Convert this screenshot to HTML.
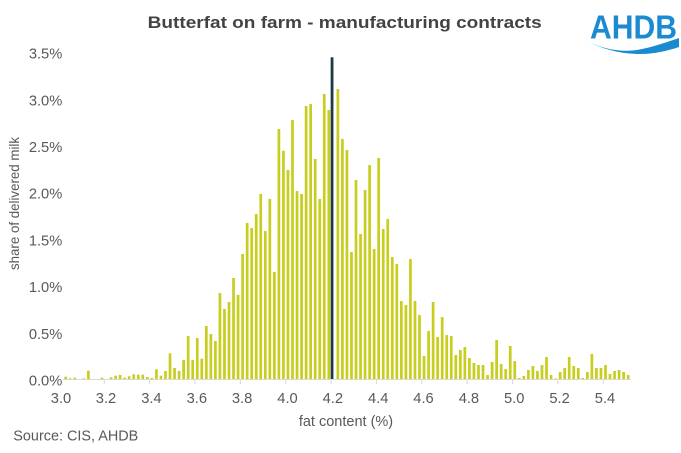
<!DOCTYPE html>
<html><head><meta charset="utf-8"><style>
html,body{margin:0;padding:0;background:#fff;}
svg{display:block;}
text{font-family:"Liberation Sans",Arial,sans-serif;}
</style></head><body>
<svg width="681" height="453" viewBox="0 0 681 453" xmlns="http://www.w3.org/2000/svg">
<rect width="681" height="453" fill="#fff"/>
<text x="147.7" y="28" font-size="17" font-weight="bold" fill="#434343" textLength="394" lengthAdjust="spacingAndGlyphs">Butterfat on farm - manufacturing contracts</text>
<text x="590" y="38.5" font-size="33" font-weight="bold" fill="#1a8bd0" textLength="87" lengthAdjust="spacingAndGlyphs">AHDB</text>
<path d="M589,42 C606,50 624,53 642,49 C656,46 667,42 679,38 L679,47 C667,51 654,54 640,54 C620,54 603,49 589,42 Z" fill="#1a8bd0"/>
<g fill="#595959" font-size="14.7" text-anchor="end">
<text x="62.3" y="385.5">0.0%</text>
<text x="62.3" y="338.8">0.5%</text>
<text x="62.3" y="292.1">1.0%</text>
<text x="62.3" y="245.4">1.5%</text>
<text x="62.3" y="198.7">2.0%</text>
<text x="62.3" y="152">2.5%</text>
<text x="62.3" y="105.3">3.0%</text>
<text x="62.3" y="58.6">3.5%</text>
</g>
<text transform="translate(19,203.5) rotate(-90)" text-anchor="middle" font-size="14" fill="#595959" textLength="133" lengthAdjust="spacingAndGlyphs">share of delivered milk</text>
<g fill="#c8ce1e">
<rect x="64.36" y="376.7" width="2.7" height="2.8"/>
<rect x="68.89" y="378.3" width="2.7" height="1.2"/>
<rect x="73.43" y="377.7" width="2.7" height="1.8"/>
<rect x="82.50" y="378.3" width="2.7" height="1.2"/>
<rect x="87.04" y="370.7" width="2.7" height="8.8"/>
<rect x="100.64" y="377.7" width="2.7" height="1.8"/>
<rect x="109.72" y="377.3" width="2.7" height="2.2"/>
<rect x="114.25" y="375.7" width="2.7" height="3.8"/>
<rect x="118.79" y="375" width="2.7" height="4.5"/>
<rect x="123.32" y="377.7" width="2.7" height="1.8"/>
<rect x="127.86" y="376.3" width="2.7" height="3.2"/>
<rect x="132.40" y="374.3" width="2.7" height="5.2"/>
<rect x="136.93" y="374.7" width="2.7" height="4.8"/>
<rect x="141.47" y="374.7" width="2.7" height="4.8"/>
<rect x="146.00" y="377" width="2.7" height="2.5"/>
<rect x="150.54" y="378" width="2.7" height="1.5"/>
<rect x="155.08" y="369.3" width="2.7" height="10.2"/>
<rect x="159.61" y="375.7" width="2.7" height="3.8"/>
<rect x="164.15" y="371" width="2.7" height="8.5"/>
<rect x="168.68" y="353.3" width="2.7" height="26.2"/>
<rect x="173.22" y="368" width="2.7" height="11.5"/>
<rect x="177.76" y="371" width="2.7" height="8.5"/>
<rect x="182.29" y="360" width="2.7" height="19.5"/>
<rect x="186.83" y="336" width="2.7" height="43.5"/>
<rect x="191.36" y="360" width="2.7" height="19.5"/>
<rect x="195.90" y="338" width="2.7" height="41.5"/>
<rect x="200.44" y="358.7" width="2.7" height="20.8"/>
<rect x="204.97" y="326" width="2.7" height="53.5"/>
<rect x="209.51" y="334" width="2.7" height="45.5"/>
<rect x="214.04" y="341" width="2.7" height="38.5"/>
<rect x="218.58" y="293" width="2.7" height="86.5"/>
<rect x="223.12" y="309" width="2.7" height="70.5"/>
<rect x="227.65" y="302" width="2.7" height="77.5"/>
<rect x="232.19" y="278" width="2.7" height="101.5"/>
<rect x="236.72" y="295" width="2.7" height="84.5"/>
<rect x="241.26" y="254" width="2.7" height="125.5"/>
<rect x="245.80" y="223" width="2.7" height="156.5"/>
<rect x="250.33" y="228" width="2.7" height="151.5"/>
<rect x="254.87" y="214" width="2.7" height="165.5"/>
<rect x="259.40" y="194" width="2.7" height="185.5"/>
<rect x="263.94" y="231" width="2.7" height="148.5"/>
<rect x="268.48" y="199" width="2.7" height="180.5"/>
<rect x="273.01" y="272" width="2.7" height="107.5"/>
<rect x="277.55" y="129" width="2.7" height="250.5"/>
<rect x="282.08" y="150.7" width="2.7" height="228.8"/>
<rect x="286.62" y="170" width="2.7" height="209.5"/>
<rect x="291.16" y="120" width="2.7" height="259.5"/>
<rect x="295.69" y="191" width="2.7" height="188.5"/>
<rect x="300.23" y="194" width="2.7" height="185.5"/>
<rect x="304.76" y="106" width="2.7" height="273.5"/>
<rect x="309.30" y="104" width="2.7" height="275.5"/>
<rect x="313.84" y="159" width="2.7" height="220.5"/>
<rect x="318.37" y="199" width="2.7" height="180.5"/>
<rect x="322.91" y="94" width="2.7" height="285.5"/>
<rect x="327.44" y="110" width="2.7" height="269.5"/>
<rect x="336.52" y="89" width="2.7" height="290.5"/>
<rect x="341.05" y="139" width="2.7" height="240.5"/>
<rect x="345.59" y="150" width="2.7" height="229.5"/>
<rect x="350.12" y="252" width="2.7" height="127.5"/>
<rect x="354.66" y="180" width="2.7" height="199.5"/>
<rect x="359.20" y="234" width="2.7" height="145.5"/>
<rect x="363.73" y="190" width="2.7" height="189.5"/>
<rect x="368.27" y="165" width="2.7" height="214.5"/>
<rect x="372.80" y="249" width="2.7" height="130.5"/>
<rect x="377.34" y="158" width="2.7" height="221.5"/>
<rect x="381.88" y="229" width="2.7" height="150.5"/>
<rect x="386.41" y="219" width="2.7" height="160.5"/>
<rect x="390.95" y="257" width="2.7" height="122.5"/>
<rect x="395.48" y="264" width="2.7" height="115.5"/>
<rect x="400.02" y="301" width="2.7" height="78.5"/>
<rect x="404.56" y="305" width="2.7" height="74.5"/>
<rect x="409.09" y="259" width="2.7" height="120.5"/>
<rect x="413.63" y="301" width="2.7" height="78.5"/>
<rect x="418.16" y="315" width="2.7" height="64.5"/>
<rect x="422.70" y="356" width="2.7" height="23.5"/>
<rect x="427.24" y="331" width="2.7" height="48.5"/>
<rect x="431.77" y="302" width="2.7" height="77.5"/>
<rect x="436.31" y="337" width="2.7" height="42.5"/>
<rect x="440.84" y="317" width="2.7" height="62.5"/>
<rect x="445.38" y="335" width="2.7" height="44.5"/>
<rect x="449.92" y="336" width="2.7" height="43.5"/>
<rect x="454.45" y="355" width="2.7" height="24.5"/>
<rect x="458.99" y="350" width="2.7" height="29.5"/>
<rect x="463.52" y="347" width="2.7" height="32.5"/>
<rect x="468.06" y="358" width="2.7" height="21.5"/>
<rect x="472.60" y="363" width="2.7" height="16.5"/>
<rect x="477.13" y="365" width="2.7" height="14.5"/>
<rect x="481.67" y="365" width="2.7" height="14.5"/>
<rect x="486.20" y="375" width="2.7" height="4.5"/>
<rect x="490.74" y="362" width="2.7" height="17.5"/>
<rect x="495.28" y="340" width="2.7" height="39.5"/>
<rect x="499.81" y="364" width="2.7" height="15.5"/>
<rect x="504.35" y="369" width="2.7" height="10.5"/>
<rect x="508.88" y="346" width="2.7" height="33.5"/>
<rect x="513.42" y="361" width="2.7" height="18.5"/>
<rect x="517.96" y="378" width="2.7" height="1.5"/>
<rect x="522.49" y="376" width="2.7" height="3.5"/>
<rect x="527.03" y="370" width="2.7" height="9.5"/>
<rect x="531.56" y="366" width="2.7" height="13.5"/>
<rect x="536.10" y="371" width="2.7" height="8.5"/>
<rect x="540.64" y="365" width="2.7" height="14.5"/>
<rect x="545.17" y="357" width="2.7" height="22.5"/>
<rect x="549.71" y="375" width="2.7" height="4.5"/>
<rect x="554.24" y="378.5" width="2.7" height="1"/>
<rect x="558.78" y="372" width="2.7" height="7.5"/>
<rect x="563.32" y="368" width="2.7" height="11.5"/>
<rect x="567.85" y="357" width="2.7" height="22.5"/>
<rect x="572.39" y="366" width="2.7" height="13.5"/>
<rect x="576.92" y="368" width="2.7" height="11.5"/>
<rect x="581.46" y="378" width="2.7" height="1.5"/>
<rect x="586.00" y="372" width="2.7" height="7.5"/>
<rect x="590.53" y="354" width="2.7" height="25.5"/>
<rect x="595.07" y="368" width="2.7" height="11.5"/>
<rect x="599.60" y="368" width="2.7" height="11.5"/>
<rect x="604.14" y="365" width="2.7" height="14.5"/>
<rect x="608.68" y="374" width="2.7" height="5.5"/>
<rect x="613.21" y="371" width="2.7" height="8.5"/>
<rect x="617.75" y="370" width="2.7" height="9.5"/>
<rect x="622.28" y="372" width="2.7" height="7.5"/>
<rect x="626.82" y="375" width="2.7" height="4.5"/>
</g>
<rect x="330.65" y="57.3" width="2.8" height="322.2" fill="#1d3a45"/>
<line x1="63" y1="379.5" x2="631" y2="379.5" stroke="#d9d9d9" stroke-width="1"/>
<g stroke="#d9d9d9" stroke-width="1">
<line x1="104.3" y1="379.5" x2="104.3" y2="384"/>
<line x1="149.6" y1="379.5" x2="149.6" y2="384"/>
<line x1="195" y1="379.5" x2="195" y2="384"/>
<line x1="240.3" y1="379.5" x2="240.3" y2="384"/>
<line x1="285.7" y1="379.5" x2="285.7" y2="384"/>
<line x1="331.1" y1="379.5" x2="331.1" y2="384"/>
<line x1="376.4" y1="379.5" x2="376.4" y2="384"/>
<line x1="421.8" y1="379.5" x2="421.8" y2="384"/>
<line x1="467.1" y1="379.5" x2="467.1" y2="384"/>
<line x1="512.5" y1="379.5" x2="512.5" y2="384"/>
<line x1="557.9" y1="379.5" x2="557.9" y2="384"/>
<line x1="603.2" y1="379.5" x2="603.2" y2="384"/>
</g>
<g fill="#595959" font-size="14.7" text-anchor="middle">
<text x="61" y="403">3.0</text>
<text x="106" y="403">3.2</text>
<text x="151.4" y="403">3.4</text>
<text x="196.8" y="403">3.6</text>
<text x="242.1" y="403">3.8</text>
<text x="287.5" y="403">4.0</text>
<text x="332.8" y="403">4.2</text>
<text x="378.2" y="403">4.4</text>
<text x="423.5" y="403">4.6</text>
<text x="468.9" y="403">4.8</text>
<text x="514.2" y="403">5.0</text>
<text x="559.6" y="403">5.2</text>
<text x="605" y="403">5.4</text>
</g>
<text x="346" y="426" text-anchor="middle" font-size="14.5" fill="#595959">fat content (%)</text>
<text x="13.3" y="440.5" font-size="14.3" fill="#595959" textLength="125" lengthAdjust="spacingAndGlyphs">Source: CIS, AHDB</text>
</svg>
</body></html>
